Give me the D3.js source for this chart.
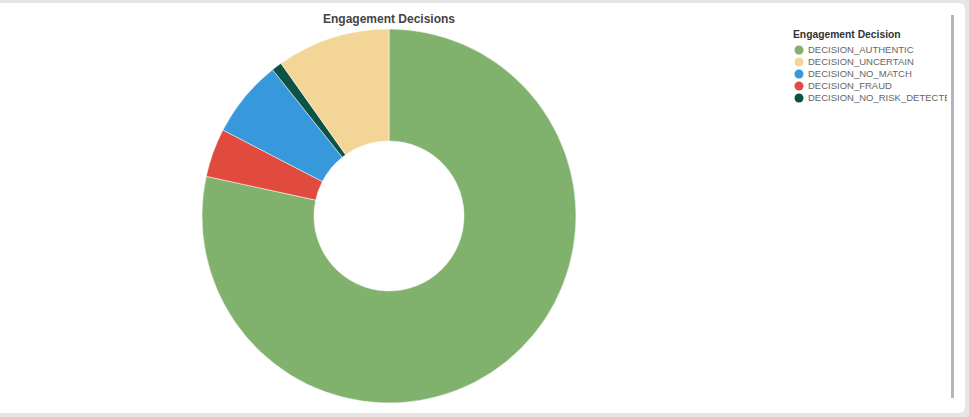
<!DOCTYPE html>
<html>
<head>
<meta charset="utf-8">
<script src="https://cdn.jsdelivr.net/npm/d3@7"></script>
<style>
  html, body { margin: 0; padding: 0; background: #e6e6e6; }
  body { width: 969px; height: 417px; overflow: hidden; position: relative; }
  #card { position: absolute; left: 0; top: 3px; width: 965px; height: 410px; background: #fff; border-radius: 0 6px 6px 0; }
  svg { position: absolute; left: 0; top: 0; }
</style>
</head>
<body>
<div id="card"></div>
<svg id="chart" width="969" height="417"></svg>
<script>
// Pie drawing order (clockwise from 12 o'clock)
const categories = ["DECISION_AUTHENTIC", "DECISION_FRAUD", "DECISION_NO_MATCH", "DECISION_NO_RISK_DETECTED", "DECISION_UNCERTAIN"];
const values = [784, 42, 67, 9, 98];
const colors = ["#80b26d", "#e14b3e", "#3798db", "#0c5245", "#f3d597"];
// Legend order
const legendOrder = ["DECISION_AUTHENTIC", "DECISION_UNCERTAIN", "DECISION_NO_MATCH", "DECISION_FRAUD", "DECISION_NO_RISK_DETECTED"];
const chartTitle = "Engagement Decisions";
const legendTitle = "Engagement Decision";

const data = categories.map((c, i) => ({ name: c, value: values[i], color: colors[i] }));
const svg = d3.select("#chart");
const font = "'Liberation Sans', Arial, sans-serif";

const cx = 389, cy = 216, outerR = 187, innerR = 75;

const pie = d3.pie().sort(null).value(d => d.value);
const arc = d3.arc().innerRadius(innerR).outerRadius(outerR);
const color = d3.scaleOrdinal().domain(categories).range(colors);

svg.append("g").attr("transform", `translate(${cx},${cy})`)
  .selectAll("path").data(pie(data)).join("path")
  .attr("d", arc)
  .attr("fill", d => color(d.data.name))
  .attr("stroke", "#fff").attr("stroke-width", 0.5);

svg.append("text").attr("x", cx).attr("y", 23)
  .attr("text-anchor", "middle")
  .attr("font-family", font).attr("font-size", 12).attr("font-weight", "bold")
  .attr("fill", "#444").text(chartTitle);

// Legend
const clip = svg.append("clipPath").attr("id", "lgclip");
clip.append("rect").attr("x", 780).attr("y", 20).attr("width", 167).attr("height", 100);
const lg = svg.append("g").attr("clip-path", "url(#lgclip)");
lg.append("text").attr("x", 793).attr("y", 38)
  .attr("font-family", font).attr("font-size", 10.3).attr("font-weight", "bold")
  .attr("fill", "#333").text(legendTitle);
const items = lg.selectAll("g.item").data(legendOrder).join("g")
  .attr("class", "item")
  .attr("transform", (d, i) => `translate(799, ${50 + i * 12})`);
items.append("circle").attr("r", 4.5).attr("fill", d => color(d));
items.append("text").attr("x", 9).attr("y", 3.3)
  .attr("font-family", font).attr("font-size", 9.5).attr("fill", "#666").text(d => d);

// Scrollbar
svg.append("rect").attr("x", 951).attr("y", 15).attr("width", 3).attr("height", 383)
  .attr("fill", "#b3b6bb");
</script>
</body>
</html>
